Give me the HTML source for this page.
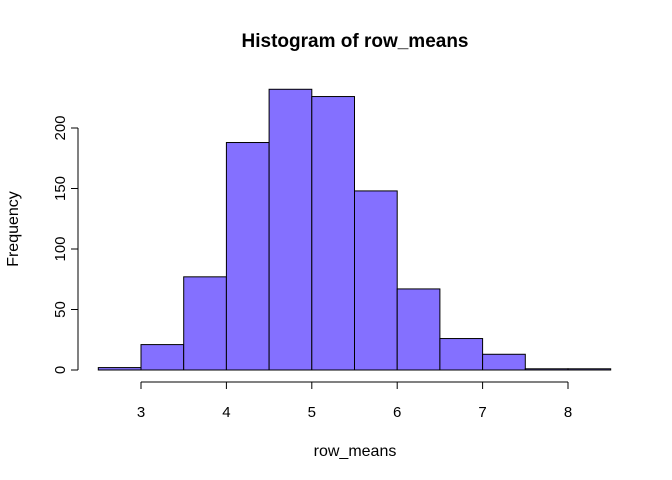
<!DOCTYPE html>
<html><head><meta charset="utf-8"><style>
html,body{margin:0;padding:0;background:#fff;}
svg{display:block;font-family:"Liberation Sans",Arial,sans-serif;}
</style></head><body>
<svg id="chart" width="672" height="480">
<text x="355" y="47" text-anchor="middle" font-size="19" font-weight="bold">Histogram of row_means</text>
<text x="355" y="456" text-anchor="middle" font-size="16">row_means</text>
<text transform="translate(18,229) rotate(-90)" text-anchor="middle" font-size="16">Frequency</text>
<g id="bars"></g><g id="xaxis"></g><g id="yaxis"></g>
</svg>
<script>
const breaks = [2.5,3,3.5,4,4.5,5,5.5,6,6.5,7,7.5,8,8.5];
const counts = [2,21,77,188,232,226,148,67,26,13,1,1];
const xTicks = [3,4,5,6,7,8];
const yTicks = [0,50,100,150,200];
const NS="http://www.w3.org/2000/svg";
const xs=v=>141+(v-3)*85.4;
const ys=v=>370-v*1.21;
function mk(tag,attrs,parent){const e=document.createElementNS(NS,tag);for(const k in attrs)e.setAttribute(k,attrs[k]);parent.appendChild(e);return e;}
const bars=document.getElementById('bars');
counts.forEach((c,i)=>{
  const r=mk('rect',{x:xs(breaks[i]),y:ys(c),width:xs(breaks[i+1])-xs(breaks[i]),height:ys(0)-ys(c),fill:'#8470FF',stroke:'#000','stroke-width':1},bars);
  
  
});
const xa=document.getElementById('xaxis');
const xl=mk('line',{x1:xs(xTicks[0]),x2:xs(xTicks[xTicks.length-1]),y1:382,y2:382,stroke:'#000'},xa);


xTicks.forEach(t=>{
  mk('line',{x1:xs(t),x2:xs(t),y1:382,y2:389,stroke:'#000'},xa);
  const tx=mk('text',{x:xs(t),y:417,'text-anchor':'middle','font-size':15},xa);
  tx.textContent=t;
  
  
});
const ya=document.getElementById('yaxis');
const yl=mk('line',{x1:78,x2:78,y1:ys(yTicks[0]),y2:ys(yTicks[yTicks.length-1]),stroke:'#000'},ya);


yTicks.forEach(t=>{
  mk('line',{x1:71,x2:78,y1:ys(t),y2:ys(t),stroke:'#000'},ya);
  const tx=mk('text',{transform:`translate(65,${ys(t)}) rotate(-90)`,'text-anchor':'middle','font-size':15},ya);
  tx.textContent=t;
  
  
});
</script>
</body></html>
